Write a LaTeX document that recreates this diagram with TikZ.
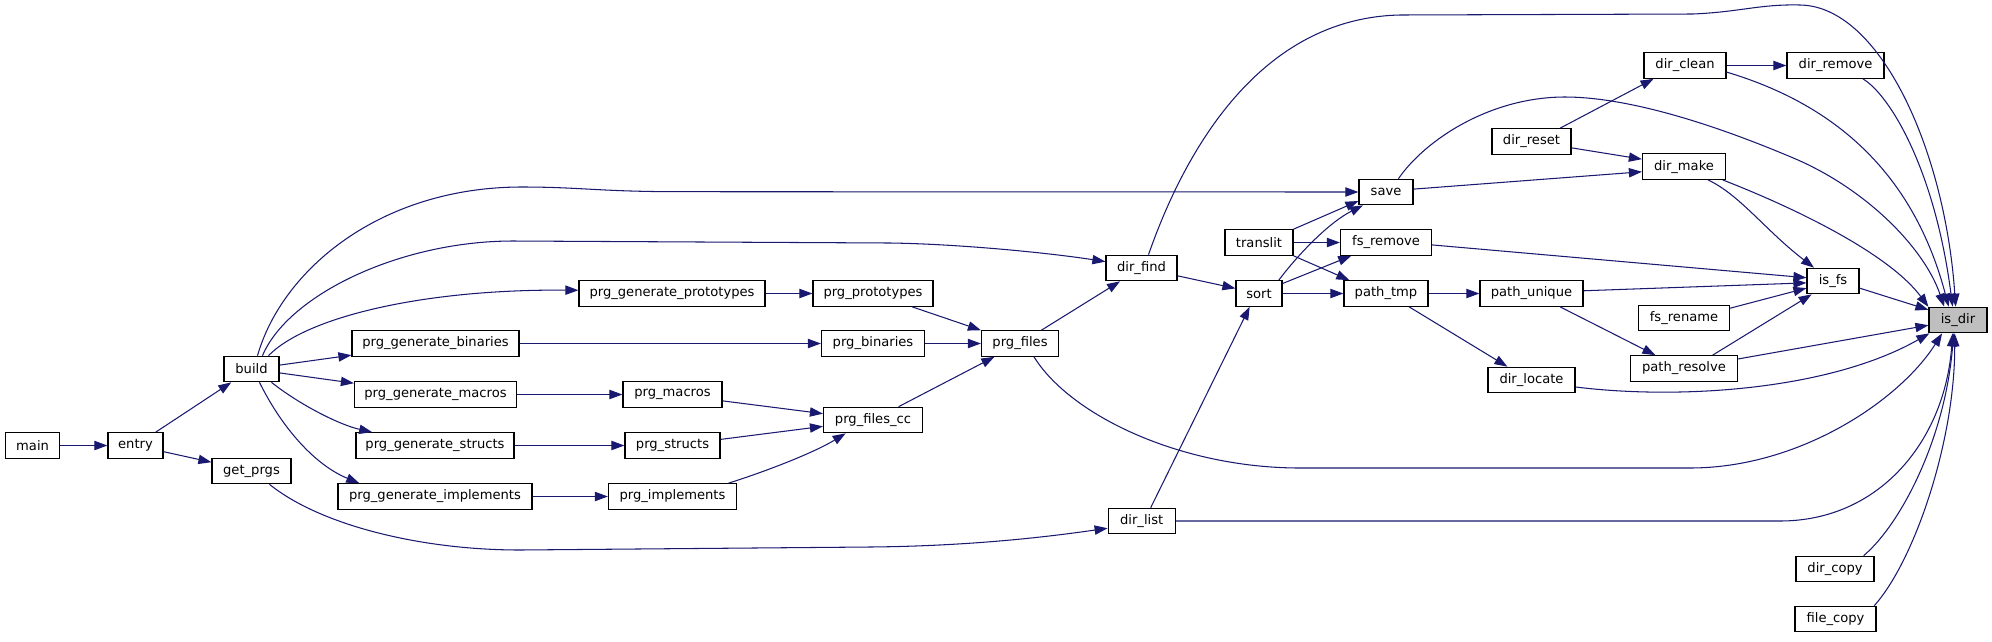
\documentclass[tikz,border=0pt]{standalone}
\usepackage{fontspec}
\setmainfont{DejaVu Sans}
\usetikzlibrary{arrows.meta,calc}
\definecolor{edgeblue}{HTML}{191970}
\definecolor{hlgray}{HTML}{BFBFBF}
\begin{document}
\begin{tikzpicture}[x=1pt,y=-1pt,
  fn/.style={draw=black, line width=1.2pt, fill=white, minimum height=25.5pt,
    inner xsep=2pt, inner ysep=0pt, font=\fontsize{13.1}{15}\selectfont},
  hl/.style={fn, fill=hlgray},
  cl/.style={draw=edgeblue, line width=1.05pt, -{Triangle[length=13pt,width=9.3pt]}}]
\fill[white] (0,0) rectangle (1992,641);
\useasboundingbox (0,0) rectangle (1992,641);
% nodes
\node[fn, minimum width=54pt] (main) at (32.6,445.5) {main};
\node[fn, minimum width=55pt] (entry) at (135.5,445.5) {entry};
\node[fn, minimum width=55pt] (build) at (251.5,369) {build};
\node[fn, minimum width=79pt] (get_prgs) at (251.5,471) {get\_prgs};
\node[fn, minimum width=186pt] (pgp) at (672,293.5) {prg\_generate\_prototypes};
\node[fn, minimum width=167pt] (pgb) at (435.5,343.5) {prg\_generate\_binaries};
\node[fn, minimum width=162pt] (pgm) at (435.5,394.5) {prg\_generate\_macros};
\node[fn, minimum width=158pt] (pgs) at (435,445.5) {prg\_generate\_structs};
\node[fn, minimum width=194pt] (pgi) at (435,496.5) {prg\_generate\_implements};
\node[fn, minimum width=120pt] (pp) at (873,293.5) {prg\_prototypes};
\node[fn, minimum width=103pt] (pb) at (873,343.5) {prg\_binaries};
\node[fn, minimum width=99pt] (pm) at (672.5,394.5) {prg\_macros};
\node[fn, minimum width=95pt] (ps) at (672.5,445.5) {prg\_structs};
\node[fn, minimum width=128pt] (pi) at (672.5,496.5) {prg\_implements};
\node[fn, minimum width=77pt] (pf) at (1020,343.5) {prg\_files};
\node[fn, minimum width=99pt] (pfc) at (873,420) {prg\_files\_cc};
\node[fn, minimum width=71pt] (dir_find) at (1141.5,268) {dir\_find};
\node[fn, minimum width=67pt] (dir_list) at (1141.7,521) {dir\_list};
\node[fn, minimum width=68pt] (translit) at (1259,242.5) {translit};
\node[fn, minimum width=46pt] (sort) at (1259,293.5) {sort};
\node[fn, minimum width=54pt] (save) at (1386,192) {save};
\node[fn, minimum width=91pt] (fs_remove) at (1386,242.5) {fs\_remove};
\node[fn, minimum width=84pt] (path_tmp) at (1386,293.5) {path\_tmp};
\node[fn, minimum width=79pt] (dir_reset) at (1531.5,141.5) {dir\_reset};
\node[fn, minimum width=103pt] (path_unique) at (1531.5,293.5) {path\_unique};
\node[fn, minimum width=87pt] (dir_locate) at (1531.5,380) {dir\_locate};
\node[fn, minimum width=82pt] (dir_clean) at (1685,65.5) {dir\_clean};
\node[fn, minimum width=83pt] (dir_make) at (1684,166.6) {dir\_make};
\node[fn, minimum width=91pt] (fs_rename) at (1684,318) {fs\_rename};
\node[fn, minimum width=107pt] (path_resolve) at (1684,368.5) {path\_resolve};
\node[fn, minimum width=97pt] (dir_remove) at (1835.5,65.5) {dir\_remove};
\node[fn, minimum width=52pt] (is_fs) at (1833,281) {is\_fs};
\node[fn, minimum width=78pt] (dir_copy) at (1835,569) {dir\_copy};
\node[fn, minimum width=81pt] (file_copy) at (1835.5,619) {file\_copy};
\node[hl, minimum width=58pt] (is_dir) at (1958,320) {is\_dir};
% edges
\draw[cl] (main) -- (entry);
\draw[cl] (entry) -- (build);
\draw[cl] (entry) -- (get_prgs);
\draw[cl] ($(build.north)+(6,0)$) .. controls (282,270) and (380,187) .. (522,187) .. controls (580,187) and (600,191.7) .. (680,191.7) -- (save.west);
\draw[cl] ($(build.north)+(11,0)$) .. controls (288,295) and (400,241) .. (513,241) -- (890,243) .. controls (960,244) and (1050,253) .. (dir_find.170);
\draw[cl] ($(build.north)+(17,0)$) .. controls (305,318) and (420,289) .. (pgp.178);
\draw[cl] (build) -- (pgb);
\draw[cl] (build) -- (pgm);
\draw[cl] ($(build.south)+(20,0)$) .. controls (300,405) and (340,425) .. (pgs.168);
\draw[cl] ($(build.south)+(8,0)$) .. controls (282,428) and (315,465) .. (pgi.170);
\draw[cl] ($(get_prgs.south)+(18,0)$) .. controls (320,525) and (420,550) .. (520,550) -- (870,547) .. controls (980,546) and (1060,535) .. (dir_list.192);
\draw[cl] (pgp) -- (pp);
\draw[cl] (pgb) -- (pb);
\draw[cl] (pgm) -- (pm);
\draw[cl] (pgs) -- (ps);
\draw[cl] (pgi) -- (pi);
\draw[cl] (pp) -- (pf);
\draw[cl] (pb) -- (pf);
\draw[cl] (pm) -- (pfc);
\draw[cl] (ps) -- (pfc);
\draw[cl] ($(pi.north)+(56,0)$) .. controls (770,470) and (815,452) .. (pfc.206);
\draw[cl] (pfc) -- (pf);
\draw[cl] (pf) -- (dir_find);
\draw[cl] ($(pf.south)+(14,0)$) .. controls (1070,415) and (1180,468) .. (1300,468) -- (1690,468) .. controls (1800,468) and (1900,400) .. (is_dir.220);
\draw[cl] (dir_find) -- (sort);
\draw[cl] ($(dir_find.north)+(7,0)$) .. controls (1185,150) and (1260,18) .. (1400,15) -- (1693,14) .. controls (1740,12) and (1760,4) .. (1800,5) .. controls (1880,6) and (1945,150) .. (is_dir.100);
\draw[cl] (dir_list.56) -- (sort.235);
\draw[cl] (dir_list.east) -- (1780,521) .. controls (1880,521) and (1945,440) .. (is_dir.248);
\draw[cl] (translit.north east) -- (save.198);
\draw[cl] (translit) -- (fs_remove);
\draw[cl] (translit.south east) -- (path_tmp.160);
\draw[cl] (sort.34) .. controls (1300,252) and (1330,222) .. (save.210);
\draw[cl] (sort.23) -- (fs_remove.201);
\draw[cl] (sort) -- (path_tmp);
\draw[cl] (save.6) -- (dir_make.187);
\draw[cl] (save.47) .. controls (1425,140) and (1490,97) .. (1565,97) .. controls (1620,97) and (1700,118) .. (1798,160) .. controls (1870,192) and (1925,250) .. (is_dir.136);
\draw[cl] (fs_remove.357) -- (is_fs.173);
\draw[cl] (path_tmp) -- (path_unique);
\draw[cl] (path_tmp.-30) -- (dir_locate.151);
\draw[cl] (dir_reset.25) -- (dir_clean.203);
\draw[cl] (dir_reset.-9) -- (dir_make.170);
\draw[cl] (dir_clean) -- (dir_remove);
\draw[cl] (dir_clean.-9) .. controls (1820,100) and (1910,160) .. (is_dir.125);
\draw[cl] (dir_remove.-26) .. controls (1890,95) and (1935,170) .. (is_dir.112);
\draw[cl] (dir_make.-29) .. controls (1740,195) and (1765,230) .. (is_fs.145);
\draw[cl] (dir_make.-19) .. controls (1800,210) and (1890,255) .. (is_dir.156);
\draw[cl] (path_unique.3) -- (is_fs.184);
\draw[cl] (path_unique.-25) -- (path_resolve.155);
\draw[cl] (fs_rename.12) -- (is_fs.195);
\draw[cl] (path_resolve.25) -- (is_fs.212);
\draw[cl] (path_resolve.10) -- (is_dir.190);
\draw[cl] (is_fs.-15) -- (is_dir.161);
\draw[cl] (dir_locate.-9) .. controls (1680,400) and (1830,390) .. (is_dir.205);
\draw[cl] (dir_copy.25) .. controls (1900,525) and (1945,440) .. (is_dir.252);
\draw[cl] (file_copy.19) .. controls (1915,560) and (1955,440) .. (is_dir.256);
\end{tikzpicture}
\end{document}
